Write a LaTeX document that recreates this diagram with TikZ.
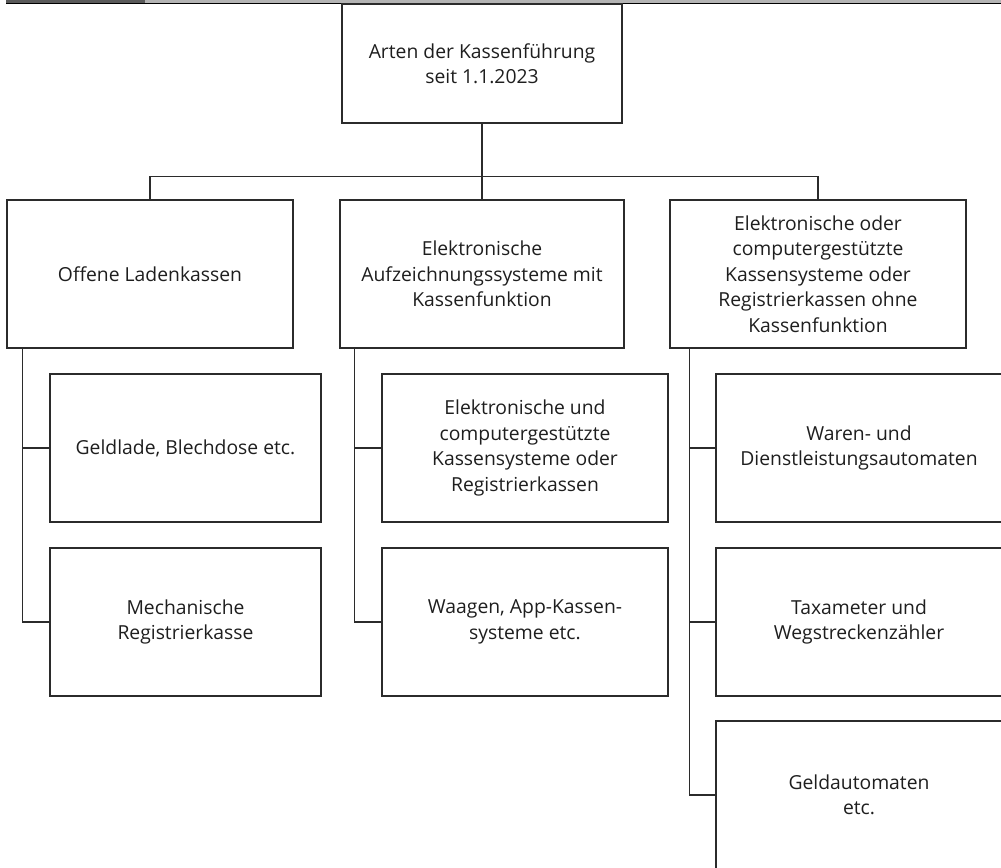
\documentclass[tikz,border=0pt]{standalone}
\usepackage{fontspec}
\setmainfont{Open Sans}
\usetikzlibrary{positioning}
\definecolor{lin}{HTML}{2B2B2B}
\definecolor{txt}{HTML}{1E1E1E}
\definecolor{bardark}{HTML}{5A5A5A}
\definecolor{barlight}{HTML}{B4B4B4}

\begin{document}
\begin{tikzpicture}[x=0.02cm,y=-0.02cm,
  font=\fontsize{11}{14.5}\selectfont,text=txt,
  box/.style={draw=lin,line width=0.85pt,align=center,inner sep=0pt,minimum height=2.96cm},
  wide/.style={box,minimum width=5.72cm},
  narrow/.style={box,minimum width=5.42cm},
  con/.style={draw=lin,line width=0.85pt}]
  \useasboundingbox (0,0) rectangle (1001,868);
  % header strip
  \fill[barlight] (145,0) rectangle (1001,3);
  \fill[bardark] (6,0) rectangle (145,3);
  \fill[black] (6,3) rectangle (1001,4.3);
  % top level
  \node[box,minimum width=5.6cm,minimum height=2.38cm] (root) at (482,63.5) {Arten der Kassenführung\\seit 1.1.2023};
  \node[wide] (a) at (150,274) {Offene Ladenkassen};
  \node[box,minimum width=5.68cm] (b) at (482,274) {Elektronische\\Aufzeichnungssysteme mit\\Kassenfunktion};
  \node[box,minimum width=5.92cm] (c) at (818,274) {Elektronische oder\\computergestützte\\Kassensysteme oder\\Registrierkassen ohne\\Kassenfunktion};
  % children
  \node[narrow] (a1) at (185.5,448) {Geldlade, Blechdose etc.};
  \node[narrow] (a2) at (185.5,622) {Mechanische\\Registrierkasse};
  \node[wide] (b1) at (525,448) {Elektronische und\\computergestützte\\Kassensysteme oder\\Registrierkassen};
  \node[wide] (b2) at (525,622) {Waagen, App-Kassen-\\systeme etc.};
  \node[wide] (c1) at (859,448) {Waren- und\\Dienstleistungsautomaten};
  \node[wide] (c2) at (859,622) {Taxameter und\\Wegstreckenzähler};
  \node[wide] (c3) at (859,795) {Geldautomaten\\etc.};
  % connectors
  \draw[con] (root) -- (b);
  \draw[con] (a.north) -- ++(0,-23) -| (c.north);
  \draw[con] ([xshift=16*0.02cm]a.south west) |- (a1.west);
  \draw[con] ([xshift=16*0.02cm]a.south west) |- (a2.west);
  \draw[con] ([xshift=15*0.02cm]b.south west) |- (b1.west);
  \draw[con] ([xshift=15*0.02cm]b.south west) |- (b2.west);
  \draw[con] ([xshift=20*0.02cm]c.south west) |- (c1.west);
  \draw[con] ([xshift=20*0.02cm]c.south west) |- (c2.west);
  \draw[con] ([xshift=20*0.02cm]c.south west) |- (c3.west);
\end{tikzpicture}
\end{document}
